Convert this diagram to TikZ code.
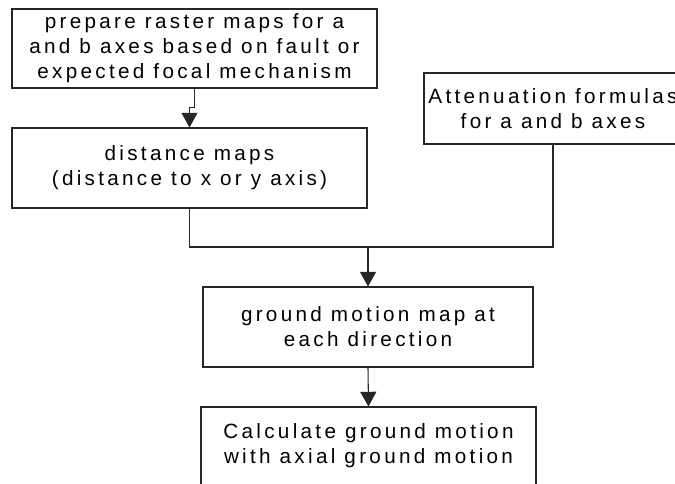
\documentclass[tikz,border=0pt]{standalone}
\usepackage{fontspec}
\setmainfont[LetterSpace=16]{Liberation Sans}
\usetikzlibrary{arrows.meta}
\tikzset{
  box/.style={draw=black!85, line width=0.8pt, inner sep=0pt},
  txt/.style={inner sep=0pt, align=center, font=\fontsize{15.5pt}{18.75pt}\selectfont},
  conn/.style={draw=black!85, line width=0.8pt},
  arr/.style={conn, -{Triangle[width=12pt,length=11pt]}}
}
\begin{document}
\begin{tikzpicture}[x=0.75pt,y=-0.75pt]
\useasboundingbox (0,0) rectangle (675,483);
\node[box, minimum width=365*0.75pt, minimum height=79*0.75pt] (b1) at (194.5,48.5) {};
\node[txt] (t1) at (b1) {prepare raster maps for a\\and b axes based on fault or\\expected focal mechanism};
\node[box, minimum width=355*0.75pt, minimum height=80*0.75pt] (b2) at (189.5,168) {};
\node[txt] (t2) at (b2) {distance maps\\(distance to x or y axis)};
\node[box, minimum width=258*0.75pt, minimum height=71*0.75pt] (b3) at (553,108.5) {};
\node[txt] (t3) at (b3) {Attenuation formulas\\for a and b axes};
\node[box, minimum width=330*0.75pt, minimum height=80*0.75pt] (b4) at (368,327) {};
\node[txt] (t4) at (b4) {ground motion map at\\each direction};
\node[box, minimum width=335*0.75pt, minimum height=78*0.75pt] (b5) at (368.5,446) {};
\node[txt] (t5) at (b5) {Calculate ground motion\\with axial ground motion};
\coordinate (j) at (368,247);
\draw[arr] (b1.south) -- ++(0,19) -| (b2.north);
\draw[conn] (b2.south) |- (j) -| (b3.south);
\draw[arr] (j) -- (b4.north);
\draw[arr] (b4.south) -- (b5.north);
\end{tikzpicture}
\end{document}
